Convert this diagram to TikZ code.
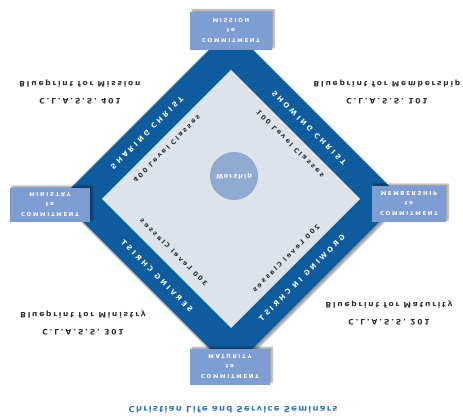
\documentclass[tikz,border=0pt]{standalone}
\usepackage{fontspec}
\usepackage{tikz}
\usetikzlibrary{shadows.blur}
\newfontfamily\labelfont[LetterSpace=15]{DejaVu Sans}
\newfontfamily\bpfont[LetterSpace=24]{DejaVu Sans}
\newfontfamily\levelfont[LetterSpace=30]{DejaVu Sans}
\newfontfamily\bandfont[LetterSpace=38]{DejaVu Sans}
\newfontfamily\boxfont[LetterSpace=30]{DejaVu Sans}
\definecolor{bandblue}{HTML}{0E5C9E}
\definecolor{innergray}{HTML}{DCE3EB}
\definecolor{boxblue}{HTML}{7E9ED3}
\definecolor{ballblue}{HTML}{8FA9D0}
\definecolor{titleblue}{HTML}{2F74B5}
\definecolor{labelgray}{HTML}{2B2B2B}

\begin{document}
\begin{tikzpicture}[x=1pt, y=-1pt,
  flip/.style={yscale=-1},
  bandtext/.style={font=\bandfont\bfseries\fontsize{7}{8}\selectfont, text=white, inner sep=0},
  leveltext/.style={font=\levelfont\bfseries\fontsize{6.5}{7}\selectfont, text=labelgray, inner sep=0},
  blueprint/.style={flip, font=\bpfont\bfseries\fontsize{7.5}{17}\selectfont, text=labelgray, align=center},
  commitbox/.style={flip, fill=boxblue, text=white, minimum width=80, minimum height=36, inner sep=1, align=center, font=\boxfont\bfseries\fontsize{5.5}{10}\selectfont, blur shadow={shadow xshift=2pt, shadow yshift=2pt, shadow blur steps=6}}]
\useasboundingbox (0,0) rectangle (463,419);
% diamond
\fill[bandblue, blur shadow={shadow xshift=2pt, shadow yshift=-3pt, shadow blur steps=8}] (231,28) -- (402,199) -- (231,370) -- (60,199) -- cycle;
\fill[innergray] (231,70) -- (360,199) -- (231,328) -- (102,199) -- cycle;
\node[circle, fill=ballblue, minimum size=48, text=white, flip, font=\labelfont\bfseries\fontsize{6.5}{7}\selectfont] (worship) at (234,176) {Worship};
% band texts
\node[bandtext, rotate=45, flip] (sharing) at (147,133) {SHARING CHRIST};
\node[bandtext, rotate=-45, flip] (showing) at (309,128) {SHOWING CHRIST};
\node[bandtext, rotate=135, flip] (serving) at (157,276) {SERVING CHRIST};
\node[bandtext, rotate=225, flip] (growing) at (302,278) {GROWING IN CHRIST};
% level texts
\node[leveltext, rotate=45, flip] (lvl400) at (167,149) {400 Level Classes};
\node[leveltext, rotate=-45, flip] (lvl100) at (290,144) {100 Level Classes};
\node[leveltext, rotate=135, flip] (lvl300) at (174,252) {300 Level Classes};
\node[leveltext, rotate=225, flip] (lvl200) at (286,258) {200 Level Classes};
% corner boxes
\node[commitbox, minimum width=82, minimum height=38] (mission) at (231,31) {COMMITMENT\\to\\MISSION};
\node[commitbox, minimum height=34] (ministry) at (50,205) {COMMITMENT\\to\\MINISTRY};
\node[commitbox, minimum width=74] (membership) at (409,204) {COMMITMENT\\to\\MEMBERSHIP};
\node[commitbox, minimum height=35] (maturity) at (230,367) {COMMITMENT\\to\\MATURITY};
% blueprints
\node[blueprint] (bpmission) at (80,92) {C.L.A.S.S. 401\\Blueprint for Mission};
\node[blueprint] (bpmembership) at (387,92) {C.L.A.S.S. 101\\Blueprint for Membership};
\node[blueprint] (bpministry) at (83,323) {C.L.A.S.S. 301\\Blueprint for Ministry};
\node[blueprint] (bpmaturity) at (389,313) {C.L.A.S.S. 201\\Blueprint for Maturity};
% title
\node[flip, text=titleblue, font=\labelfont\bfseries\fontsize{8.5}{9}\selectfont] (title) at (233,410) {Christian Life and Service Seminars};
\end{tikzpicture}
\end{document}
